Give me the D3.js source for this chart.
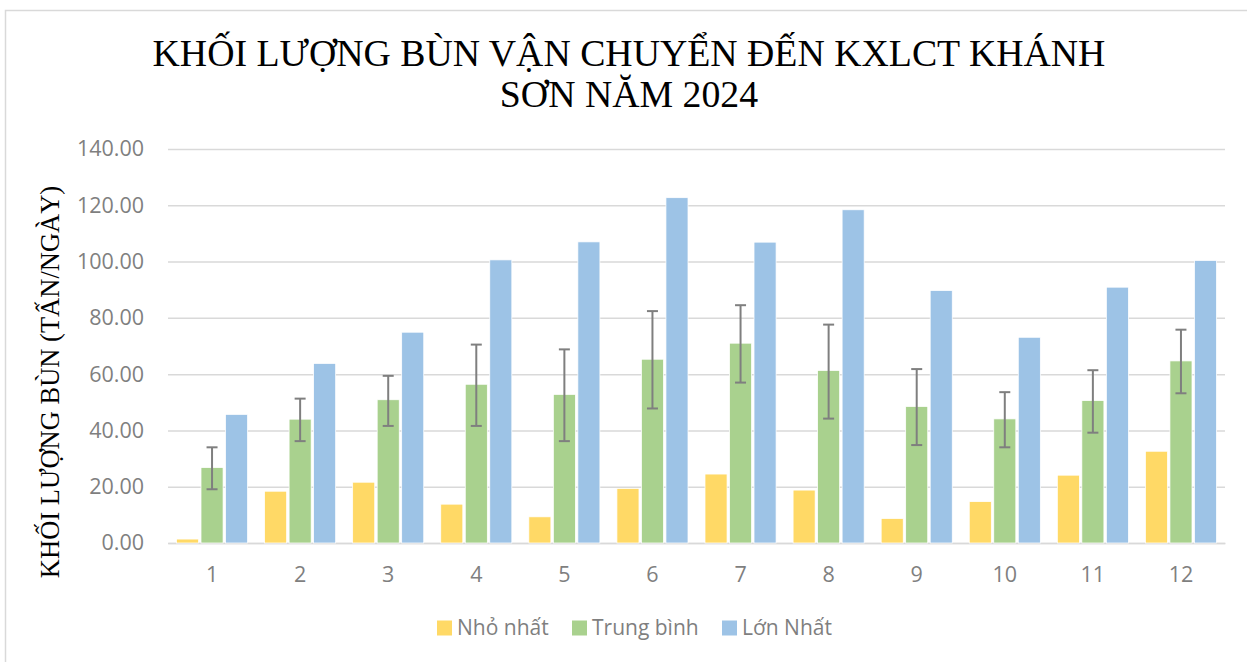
<!DOCTYPE html>
<html>
<head>
<meta charset="utf-8">
<script src="https://cdn.jsdelivr.net/npm/d3@7"></script>
<style>
  html, body { margin: 0; padding: 0; background: #fff; }
  svg { display: block; }
</style>
</head>
<body>
<svg id="chart" width="1247" height="662"></svg>
<script>
const months = ["1","2","3","4","5","6","7","8","9","10","11","12"];
const seriesNames = ["Nhỏ nhất", "Trung bình", "Lớn Nhất"];
const minValues = [1.4, 18.4, 21.6, 13.8, 9.3, 19.4, 24.5, 18.8, 8.7, 14.7, 24.1, 32.6];
const avgValues = [26.8, 44.0, 50.9, 56.4, 52.8, 65.3, 71.0, 61.3, 48.5, 44.1, 50.6, 64.7];
const maxValues = [45.7, 63.8, 74.9, 100.6, 107.0, 122.7, 106.9, 118.4, 89.7, 73.1, 90.9, 100.4];
const avgErrUpper = [34.0, 51.3, 59.4, 70.5, 68.8, 82.4, 84.5, 77.6, 61.8, 53.6, 61.4, 75.8];
const avgErrLower = [19.1, 36.2, 41.6, 41.6, 36.2, 47.8, 57.0, 44.2, 34.8, 34.0, 39.2, 53.2];
const yTicks = [0, 20, 40, 60, 80, 100, 120, 140];
const titleLines = ["KHỐI LƯỢNG BÙN VẬN CHUYỂN ĐẾN KXLCT KHÁNH", "SƠN NĂM 2024"];
const yAxisTitle = "KHỐI LƯỢNG BÙN (TẤN/NGÀY)";
const colors = ["#FFD966", "#A9D18E", "#9DC3E6"];

const svg = d3.select("#chart");
const W = 1247, H = 662;
const plot = { left: 168, right: 1225, top: 149, bottom: 543 };
const labelFont = "'Open Sans', 'Liberation Sans', sans-serif";
const serif = "'Liberation Serif', 'Times New Roman', serif";

// outer frame
svg.append("rect").attr("x", 5.5).attr("y", 10.5).attr("width", W + 10).attr("height", H + 10)
  .attr("fill", "#fff").attr("stroke", "#d9d9d9").attr("stroke-width", 1.5);

// title
const title = svg.append("text").attr("text-anchor", "middle")
  .attr("font-family", serif).attr("font-size", 37.8).attr("fill", "#000");
titleLines.forEach((t, i) => {
  title.append("tspan").attr("x", 629).attr("y", 66 + i * 41).text(t);
});

const y = d3.scaleLinear().domain([0, 140]).range([plot.bottom, plot.top]);
const x0 = d3.scaleBand().domain(months).range([plot.left, plot.right]).padding(0);
const groupW = x0.bandwidth() * 0.807;
const x1 = d3.scaleBand().domain(seriesNames).range([0, groupW]).paddingInner(0.1).paddingOuter(0);

// gridlines
const yAxis = d3.axisLeft(y).tickValues(yTicks).tickFormat(d3.format(".2f"))
  .tickSize(-(plot.right - plot.left)).tickPadding(24);
const gy = svg.append("g").attr("transform", `translate(${plot.left},0)`).call(yAxis);
gy.select(".domain").remove();
gy.selectAll(".tick line").attr("stroke", "#d9d9d9").attr("stroke-width", 1.5);
gy.selectAll(".tick text").attr("font-family", labelFont).attr("font-size", 21.5)
  .attr("fill", "#7f7f7f");

// x axis
const xAxis = d3.axisBottom(x0).tickSize(0).tickPadding(24);
const gx = svg.append("g").attr("transform", `translate(0,${plot.bottom})`).call(xAxis);
gx.select(".domain").attr("stroke", "#d9d9d9").attr("stroke-width", 1.5);
gx.selectAll(".tick text").attr("font-family", labelFont).attr("font-size", 21.5)
  .attr("fill", "#7f7f7f");

// bars
const data = months.map((m, i) => ({
  month: m,
  vals: [minValues[i], avgValues[i], maxValues[i]],
  up: avgErrUpper[i], lo: avgErrLower[i]
}));
const groups = svg.append("g").selectAll("g").data(data).join("g")
  .attr("transform", d => `translate(${x0(d.month) + (x0.bandwidth() - groupW) / 2},0)`);
groups.selectAll("rect").data(d => d.vals.map((v, k) => ({ v, k })))
  .join("rect")
  .attr("x", d => x1(seriesNames[d.k]))
  .attr("width", x1.bandwidth())
  .attr("y", d => y(d.v))
  .attr("height", d => y(0) - y(d.v))
  .attr("fill", d => colors[d.k])
  .attr("stroke", "#fff").attr("stroke-width", 0.75);

// error bars on average
const eb = groups.append("g").attr("stroke", "#7f7f7f").attr("stroke-width", 2);
const cx = x1(seriesNames[1]) + x1.bandwidth() / 2;
eb.append("line").attr("x1", cx).attr("x2", cx).attr("y1", d => y(d.up)).attr("y2", d => y(d.lo));
eb.append("line").attr("x1", cx - 5.5).attr("x2", cx + 5.5).attr("y1", d => y(d.up)).attr("y2", d => y(d.up));
eb.append("line").attr("x1", cx - 5.5).attr("x2", cx + 5.5).attr("y1", d => y(d.lo)).attr("y2", d => y(d.lo));

// y axis title
svg.append("text").attr("transform", `translate(59,382) rotate(-90)`)
  .attr("text-anchor", "middle").attr("font-family", serif).attr("font-size", 26.5)
  .attr("fill", "#000").text(yAxisTitle);

// legend
const legendX = [437, 572, 722];
const lg = svg.append("g").selectAll("g").data(seriesNames).join("g")
  .attr("transform", (d, i) => `translate(${legendX[i]},628)`);
lg.append("rect").attr("x", 0).attr("y", -7.5).attr("width", 15).attr("height", 15)
  .attr("fill", (d, i) => colors[i]);
lg.append("text").attr("x", 20).attr("y", 0).attr("dy", "0.35em")
  .attr("font-family", labelFont).attr("font-size", 21).attr("fill", "#7f7f7f").text(d => d);
</script>
</body>
</html>
